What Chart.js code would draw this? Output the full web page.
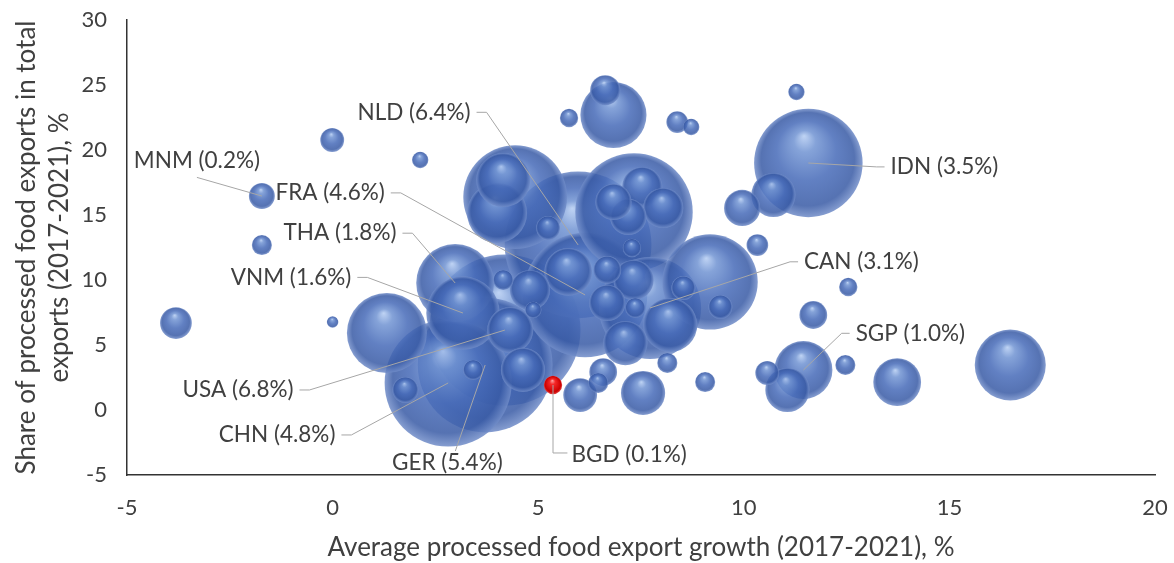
<!DOCTYPE html>
<html>
<head>
<meta charset="utf-8">
<script src="https://cdn.jsdelivr.net/npm/chart.js@4.4.1/dist/chart.umd.min.js"></script>
<style>
  html, body { margin: 0; padding: 0; background: #fff; }
</style>
</head>
<body>
<canvas id="chart" width="1174" height="563"></canvas>
<script>
// labelled countries come first, the rest of the bubbles carry no label
const codes = ['USA', 'NLD', 'GER', 'CHN', 'FRA', 'IDN', 'CAN', 'THA', 'VNM', 'SGP', 'MNM', 'BGD'];
// average processed food export growth 2017-2021, %
const growth = [4.19, 5.97, 3.71, 2.81, 6.14, 11.57, 7.72, 2.98, 3.17, 11.45, -1.72, 5.36,
  7.33, 4.44, 9.18, 1.32, 16.48, 6.83, 4.0, 4.15, 8.21, 13.73, 5.73, 4.63, 7.12, 7.55, 10.72, 11.06, 4.32,
  7.53, 8.04, 7.32, 4.8, 7.19, 6.83, 6.68, 9.96, 6.02, -3.81, 6.63, 6.68, 11.69, 6.58, 5.24, 1.77, -0.01,
  10.57, 8.53, 9.43, 10.33, 8.38, -1.72, 12.47, 8.14, 6.46, 9.06, 4.15, 7.36, 3.42, 7.28, 5.75, 12.54,
  2.13, 8.72, 11.28, 4.88, 0.0];
// share of processed food in total exports 2017-2021, %
const processedShare = [6.15, 12.7, 3.46, 2.08, 8.85, 19.0, 7.85, 9.77, 7.46, 3.08, 16.46, 1.92,
  15.23, 16.38, 9.85, 5.92, 3.46, 22.69, 15.15, 17.69, 6.54, 2.15, 10.62, 3.08, 5.15, 1.31, 16.54, 1.54, 6.15,
  17.15, 15.54, 10.0, 9.23, 14.85, 16.0, 8.23, 15.54, 1.15, 6.69, 24.6, 10.77, 7.31, 2.92, 14.0, 1.54, 20.77,
  2.85, 9.38, 7.92, 12.69, 22.15, 12.69, 3.46, 3.62, 2.08, 2.15, 10.0, 7.85, 3.08, 12.46, 22.46, 9.46,
  19.23, 21.77, 24.46, 7.69, 6.77];
// share in world processed food exports, % (bubble size)
const worldShare = [6.8, 6.4, 5.4, 4.8, 4.6, 3.5, 3.1, 1.8, 1.6, 1.0, 0.2, 0.1,
  4.1, 3.2, 2.7, 1.9, 1.5, 1.3, 1.07, 0.87, 0.87, 0.68, 0.68, 0.58, 0.58, 0.58, 0.58, 0.58, 0.63,
  0.48, 0.48, 0.48, 0.48, 0.39, 0.39, 0.39, 0.39, 0.34, 0.3, 0.27, 0.23, 0.23, 0.23, 0.17, 0.2, 0.17,
  0.17, 0.17, 0.17, 0.14, 0.14, 0.12, 0.12, 0.12, 0.12, 0.12, 0.12, 0.12, 0.12, 0.1, 0.1, 0.1,
  0.08, 0.08, 0.08, 0.08, 0.04];

const xTicks = [-5, 0, 5, 10, 15, 20];
const yTicks = [-5, 0, 5, 10, 15, 20, 25, 30];

// label placement for the annotated countries (data units of the text centre)
const callouts = {
  NLD: { at: [1.98, 22.9], side: 'right' },
  FRA: { at: [-0.06, 16.7], side: 'right' },
  THA: { at: [0.18, 13.6], side: 'right' },
  VNM: { at: [-1.01, 10.2], side: 'right' },
  MNM: { at: [-3.3, 19.2], side: 'bottom' },
  USA: { at: [-2.3, 1.54], side: 'right' },
  CHN: { at: [-1.35, -1.92], side: 'right' },
  GER: { at: [2.79, -4.08], side: 'top' },
  BGD: { at: [7.21, -3.46], side: 'elbow' },
  CAN: { at: [12.86, 11.4], side: 'left' },
  SGP: { at: [14.05, 5.9], side: 'left' },
  IDN: { at: [14.88, 18.7], side: 'left' }
};

const SIZE_K = 29; // px radius per sqrt(%)
const FONT = 'Lato, "Open Sans", sans-serif';

// big bubbles would otherwise push the plot area in by their radius
Chart.BubbleController.prototype.getMaxOverflow = function () { return false; };

const points = growth.map((gx, i) => ({
  x: gx,
  y: processedShare[i],
  r: SIZE_K * Math.sqrt(worldShare[i]),
  code: codes[i] || '',
  pct: worldShare[i]
})).sort((a, b) => b.r - a.r);

function bubbleFill(ctx) {
  const p = ctx.raw;
  const chart = ctx.chart;
  const sx = chart.scales.x, sy = chart.scales.y;
  const flat = p && p.code === 'BGD' ? 'rgb(220,20,20)' : 'rgba(70,108,186,0.86)';
  if (!p || !sx || !sy) return flat;
  const cx = sx.getPixelForValue(p.x);
  const cy = sy.getPixelForValue(p.y);
  const r = p.r;
  if (![cx, cy, r].every(Number.isFinite) || r <= 0) return flat;
  const g = chart.ctx.createRadialGradient(cx - r * 0.08, cy - r * 0.5, 0, cx, cy, r);
  if (p.code === 'BGD') {
    g.addColorStop(0, 'rgb(255,170,170)');
    g.addColorStop(0.3, 'rgb(245,40,40)');
    g.addColorStop(0.85, 'rgb(205,0,0)');
    g.addColorStop(1, 'rgb(225,70,70)');
    return g;
  }
  const a = 0.85;
  g.addColorStop(0, `rgba(180,204,242,${a})`);
  g.addColorStop(0.2, `rgba(112,147,210,${a})`);
  g.addColorStop(0.55, `rgba(70,106,184,${a})`);
  g.addColorStop(0.86, `rgba(56,90,165,${a})`);
  g.addColorStop(1, `rgba(112,140,200,${a})`);
  return g;
}

// labels with leader lines
const calloutPlugin = {
  id: 'callouts',
  afterDatasetsDraw(chart) {
    const { ctx, scales: { x, y } } = chart;
    const meta = chart.getDatasetMeta(0);
    ctx.save();
    ctx.font = '22.5px ' + FONT;
    ctx.textAlign = 'center';
    ctx.textBaseline = 'middle';
    meta.data.forEach((el, i) => {
      const p = points[i];
      const co = callouts[p.code];
      if (!co) return;
      const text = `${p.code} (${p.pct.toFixed(1)}%)`;
      const lx = x.getPixelForValue(co.at[0]);
      const ly = y.getPixelForValue(co.at[1]);
      const w = ctx.measureText(text).width;
      const tx = el.x, ty = el.y;
      ctx.strokeStyle = '#a6a6a6';
      ctx.lineWidth = 1;
      ctx.beginPath();
      if (co.side === 'right') {
        ctx.moveTo(lx + w / 2 + 6, ly);
        ctx.lineTo(lx + w / 2 + 16, ly);
      } else if (co.side === 'left') {
        ctx.moveTo(lx - w / 2 - 6, ly);
        ctx.lineTo(lx - w / 2 - 14, ly);
      } else if (co.side === 'bottom') {
        ctx.moveTo(lx, ly + 17);
      } else if (co.side === 'top') {
        ctx.moveTo(lx + 8, ly - 12);
      } else {
        ctx.moveTo(lx - w / 2 - 4, ly - 2);
        ctx.lineTo(tx, ly - 2);
      }
      ctx.lineTo(tx, ty);
      ctx.stroke();
      ctx.fillStyle = '#404040';
      ctx.fillText(text, lx, ly);
    });
    ctx.restore();
  }
};

// fixed plot box: drop the edge allowance Chart.js reserves for end labels
function fixBox(size) {
  return s => {
    if (s.isHorizontal()) s.height = size; else s.width = size;
    s.paddingTop = s.paddingBottom = s.paddingLeft = s.paddingRight = 0;
  };
}

new Chart(document.getElementById('chart'), {
  type: 'bubble',
  data: {
    datasets: [{
      data: points,
      backgroundColor: bubbleFill,
      borderWidth: 0,
      hoverBorderWidth: 0,
      clip: false
    }]
  },
  options: {
    responsive: false,
    animation: false,
    events: [],
    devicePixelRatio: 1,
    layout: { autoPadding: false, padding: { top: 20, right: 19, left: 0, bottom: 0 } },
    plugins: {
      legend: { display: false },
      tooltip: { enabled: false }
    },
    scales: {
      x: {
        type: 'linear',
        min: -5,
        max: 20,
        afterBuildTicks: s => { s.ticks = xTicks.map(v => ({ value: v })); },
        afterFit: fixBox(88),
        grid: { display: false, drawTicks: false },
        border: { display: true, color: '#333', width: 1.5 },
        ticks: { color: '#404040', font: { family: FONT, size: 22 }, padding: 20 },
        title: {
          display: true,
          text: 'Average processed food export growth (2017-2021), %',
          color: '#404040',
          font: { family: FONT, size: 26 },
          padding: { top: 0, bottom: 0 }
        }
      },
      y: {
        type: 'linear',
        min: -5,
        max: 30,
        afterBuildTicks: s => { s.ticks = yTicks.map(v => ({ value: v })); },
        afterFit: fixBox(127),
        grid: { display: false, drawTicks: false },
        border: { display: true, color: '#333', width: 1.5 },
        ticks: { color: '#404040', font: { family: FONT, size: 22 }, padding: 20 },
        title: {
          display: true,
          text: ['Share of processed food exports in total', 'exports (2017-2021), %'],
          color: '#404040',
          font: { family: FONT, size: 26, lineHeight: 1.27 },
          padding: { top: 10, bottom: 0 }
        }
      }
    }
  },
  plugins: [calloutPlugin]
});
</script>
</body>
</html>
